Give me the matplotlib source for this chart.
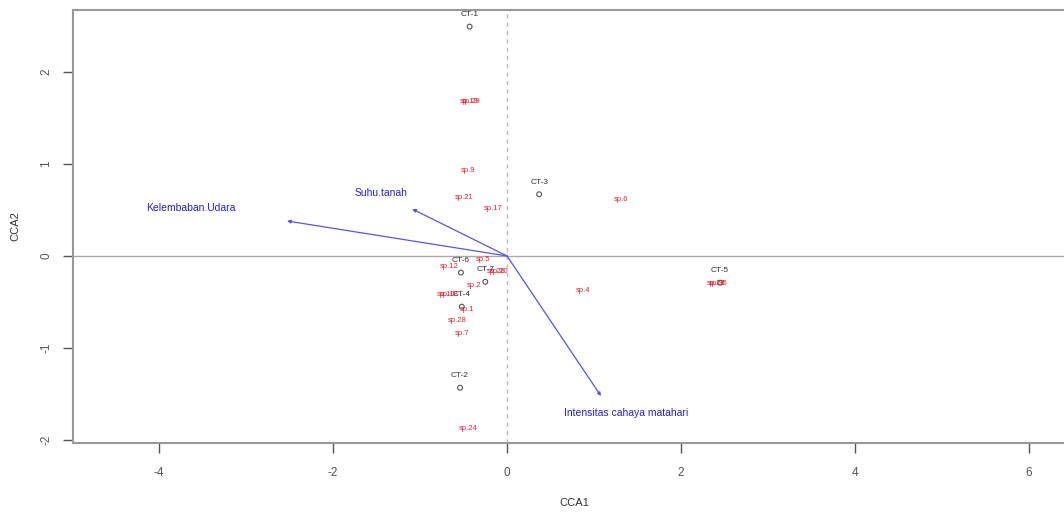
import matplotlib
matplotlib.use("Agg")
import matplotlib.pyplot as plt

plt.rcParams['font.family'] = ['Liberation Sans', 'DejaVu Sans']
plt.rcParams['axes.unicode_minus'] = False

# site scores (CCA1, CCA2)
site_names = ['CT-1', 'CT-2', 'CT-3', 'CT-4', 'CT-5', 'CT-6', 'CT-7']
site_x = [-0.43, -0.54, 0.37, -0.52, 2.45, -0.53, -0.25]
site_y = [2.49, -1.43, 0.67, -0.55, -0.29, -0.18, -0.28]

# species scores
sp_names = ['sp.19', 'sp.29', 'sp.9', 'sp.21', 'sp.17', 'sp.6', 'sp.25', 'sp.35',
            'sp.4', 'sp.5', 'sp.26', 'sp.20', 'sp.12', 'sp.2', 'sp.10', 'sp.18',
            'sp.1', 'sp.28', 'sp.7', 'sp.24']
sp_x = [-0.44, -0.41, -0.45, -0.49, -0.16, 1.31, 2.40, 2.43,
        0.87, -0.28, -0.12, -0.09, -0.67, -0.38, -0.70, -0.67,
        -0.46, -0.57, -0.52, -0.45]
sp_y = [1.68, 1.68, 0.93, 0.63, 0.52, 0.61, -0.30, -0.30,
        -0.37, -0.04, -0.17, -0.17, -0.11, -0.32, -0.42, -0.42,
        -0.58, -0.70, -0.84, -1.87]

# environmental arrows
env_names = ['Kelembaban.Udara', 'Suhu.tanah', 'Intensitas cahaya matahari']
env_x = [-2.53, -1.09, 1.08]
env_y = [0.38, 0.51, -1.52]
env_lab_x = [-3.64, -1.45, 1.37]
env_lab_y = [0.52, 0.68, -1.70]

fig = plt.figure(figsize=(10.64, 5.12), dpi=100)
ax = fig.add_axes([73 / 1064, 69 / 512, (1075 - 73) / 1064, (443 - 10) / 512])

ax.axhline(0, color='#aaaaaa', lw=1.0, zorder=1)
ax.axvline(0, color='#bbbbbb', lw=1.0, ls=(0, (3, 3)), zorder=1)

ax.scatter(site_x, site_y, s=12, facecolors='none', edgecolors='#555555', lw=0.8, zorder=3)
for name, x, y in zip(site_names, site_x, site_y):
    ax.text(x, y + 0.13, name, fontsize=6, color='#333333', ha='center', va='center', zorder=4)

for name, x, y in zip(sp_names, sp_x, sp_y):
    ax.text(x, y, name, fontsize=5.5, color='#e8222e', ha='center', va='center', zorder=4)

for name, x, y, lx, ly in zip(env_names, env_x, env_y, env_lab_x, env_lab_y):
    ax.annotate('', xy=(x, y), xytext=(0, 0),
                arrowprops=dict(arrowstyle='-|>', color='#5555ee', lw=0.9,
                                mutation_scale=5, shrinkA=0, shrinkB=0))
    ax.text(lx, ly, name, fontsize=7.5, color='#2222dd', ha='center', va='center')

ax.set_xlim(-4.99, 6.53)
ax.set_ylim(-2.03, 2.67)
ax.set_xticks([-4, -2, 0, 2, 4, 6])
ax.set_yticks([-2, -1, 0, 1, 2])
ax.tick_params(colors='#555555', labelsize=8.5, length=7, width=1, direction='out', pad=10)
ax.tick_params(axis='y', pad=8)
for lab in ax.get_yticklabels():
    lab.set_rotation(90)
    lab.set_va('center')
for s in ax.spines.values():
    s.set_color('#999999')
    s.set_linewidth(1.5)
ax.spines['right'].set_visible(False)

ax.set_xlabel('CCA1', fontsize=8, color='#333333', labelpad=14)
ax.set_ylabel('CCA2', fontsize=8, color='#333333', labelpad=14)

fig.savefig('out.png', dpi=100)
